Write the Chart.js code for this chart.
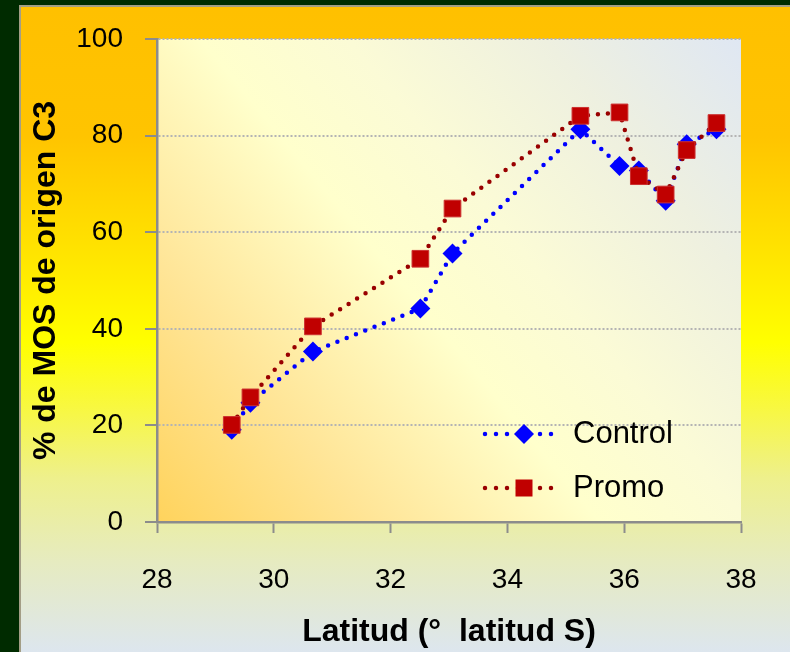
<!DOCTYPE html>
<html>
<head>
<meta charset="utf-8">
<script src="https://cdn.jsdelivr.net/npm/chart.js@4/dist/chart.umd.min.js"></script>
<style>
html,body{margin:0;padding:0;background:#002b00;}
canvas{display:block;}
</style>
</head>
<body>
<canvas id="c" width="790" height="652"></canvas>
<script>
// Latitude of each sampling site (° S)
const latitudes = [29.28, 29.6, 30.67, 32.51, 33.06, 35.25, 35.92, 36.25, 36.71, 37.07, 37.58];
// Share of soil organic matter of C3 origin (%)
const control = [19.1, 24.7, 35.3, 44.2, 55.6, 81.3, 73.7, 72.8, 66.5, 78.2, 81.3];
const promo   = [20.1, 25.8, 40.5, 54.5, 64.9, 84.1, 84.8, 71.6, 67.8, 77.0, 82.6];

const seriesNames = ['Control', 'Promo'];
const xTicks = [28, 30, 32, 34, 36, 38];
const yTicks = [0, 20, 40, 60, 80, 100];
const xTitle = 'Latitud (°  latitud S)';
const yTitle = '% de MOS de origen C3';

const FONT = 'Liberation Sans';
const BLUE = '#0000ff';
const RED_LINE = '#990000';
const RED_MARK = '#c00000';

const toPoints = ys => ys.map((y, i) => ({ x: latitudes[i], y }));

// Page panel and plot-area fills
const backdrop = {
  id: 'backdrop',
  beforeDraw(chart) {
    const { ctx, width, height, chartArea: a } = chart;
    ctx.save();
    ctx.fillStyle = '#002b00';
    ctx.fillRect(0, 0, width, height);
    ctx.fillStyle = '#a39e86';
    ctx.fillRect(19, 5, width - 19, height - 5);
    const g = ctx.createLinearGradient(0, 7, 0, height);
    g.addColorStop(0.00, '#ffc000');
    g.addColorStop(0.20, '#ffc400');
    g.addColorStop(0.36, '#ffe000');
    g.addColorStop(0.52, '#ffff00');
    g.addColorStop(0.62, '#f8f840');
    g.addColorStop(0.73, '#eef08c');
    g.addColorStop(0.86, '#e6ebc0');
    g.addColorStop(1.00, '#dde6ee');
    ctx.fillStyle = g;
    ctx.fillRect(21, 7, width - 21, height - 7);

    const p = ctx.createLinearGradient(a.left, a.bottom, a.right, a.top);
    p.addColorStop(0.00, '#ffd35c');
    p.addColorStop(0.22, '#ffe597');
    p.addColorStop(0.45, '#ffffcc');
    p.addColorStop(0.60, '#fbfbd6');
    p.addColorStop(0.80, '#eef0e0');
    p.addColorStop(1.00, '#dfe7f3');
    ctx.fillStyle = p;
    ctx.fillRect(a.left, a.top, a.right - a.left, a.bottom - a.top);
    ctx.restore();
  }
};

// Legend drawn inside the plot area, lower right
const insideLegend = {
  id: 'insideLegend',
  afterDatasetsDraw(chart) {
    const { ctx } = chart;
    const rows = [
      { name: seriesNames[0], line: BLUE, fill: BLUE, shape: 'diamond', y: 434 },
      { name: seriesNames[1], line: RED_LINE, fill: RED_MARK, shape: 'square', y: 488 }
    ];
    ctx.save();
    rows.forEach(r => {
      ctx.beginPath();
      ctx.setLineDash([0, 11]);
      ctx.lineCap = 'round';
      ctx.lineWidth = 4.5;
      ctx.strokeStyle = r.line;
      ctx.moveTo(485, r.y);
      ctx.lineTo(553, r.y);
      ctx.stroke();
      ctx.setLineDash([]);
      ctx.fillStyle = r.fill;
      ctx.beginPath();
      const cx = 524;
      if (r.shape === 'diamond') {
        ctx.moveTo(cx - 10, r.y);
        ctx.lineTo(cx, r.y - 10);
        ctx.lineTo(cx + 10, r.y);
        ctx.lineTo(cx, r.y + 10);
        ctx.closePath();
      } else {
        ctx.rect(cx - 8.5, r.y - 8.5, 17, 17);
      }
      ctx.fill();
      ctx.fillStyle = '#000';
      ctx.font = '31px "' + FONT + '"';
      ctx.textAlign = 'left';
      ctx.textBaseline = 'middle';
      ctx.fillText(r.name, 573, r.y);
    });
    ctx.restore();
  }
};

new Chart(document.getElementById('c'), {
  type: 'line',
  data: {
    datasets: [
      {
        label: seriesNames[0],
        data: toPoints(control),
        order: 1,
        borderColor: BLUE,
        borderWidth: 4.5,
        borderDash: [0, 10],
        borderCapStyle: 'round',
        tension: 0,
        fill: false,
        pointStyle: 'rectRot',
        pointRadius: 10,
        pointBackgroundColor: BLUE,
        pointBorderColor: BLUE,
        pointBorderWidth: 0
      },
      {
        label: seriesNames[1],
        data: toPoints(promo),
        order: 0,
        borderColor: RED_LINE,
        borderWidth: 4.5,
        borderDash: [0, 10],
        borderCapStyle: 'round',
        tension: 0,
        fill: false,
        pointStyle: 'rect',
        pointRadius: 11.8,
        pointBackgroundColor: RED_MARK,
        pointBorderColor: '#cc3030',
        pointBorderWidth: 1
      }
    ]
  },
  options: {
    responsive: false,
    animation: false,
    devicePixelRatio: 1,
    layout: { padding: { left: 20, top: 39, right: 49, bottom: 0 } },
    plugins: { legend: { display: false }, tooltip: { enabled: false } },
    events: [],
    scales: {
      x: {
        type: 'linear',
        min: xTicks[0],
        max: xTicks[xTicks.length - 1],
        afterFit: s => { s.height = 130; },
        ticks: {
          stepSize: xTicks[1] - xTicks[0],
          color: '#000',
          font: { family: FONT, size: 28 },
          padding: 30,
          maxRotation: 0
        },
        grid: {
          drawOnChartArea: false,
          drawTicks: true,
          tickLength: 11,
          tickColor: '#8c8c8c',
          tickWidth: 2
        },
        border: { display: true, color: '#8c8c8c', width: 2.5 },
        title: {
          display: true,
          text: xTitle,
          color: '#000',
          font: { family: FONT, size: 32, weight: 'bold' },
          padding: { top: 0, bottom: 1 }
        }
      },
      y: {
        min: yTicks[0],
        max: yTicks[yTicks.length - 1],
        afterFit: s => { s.width = 137; },
        ticks: {
          stepSize: yTicks[1] - yTicks[0],
          color: '#000',
          font: { family: FONT, size: 28 },
          padding: 22
        },
        grid: {
          color: c => (c.tick && c.tick.value === 0 ? 'rgba(0,0,0,0)' : '#b4b4b4'),
          lineWidth: 2,
          drawTicks: true,
          tickLength: 12,
          tickColor: '#8c8c8c',
          tickWidth: 2,
          tickBorderDash: []
        },
        border: { display: true, color: '#8c8c8c', width: 2.5, dash: [2, 2] },
        title: {
          display: true,
          text: yTitle,
          color: '#000',
          font: { family: FONT, size: 32, weight: 'bold' },
          padding: { top: 7, bottom: 0 }
        }
      }
    }
  },
  plugins: [backdrop, insideLegend]
});
</script>
</body>
</html>
